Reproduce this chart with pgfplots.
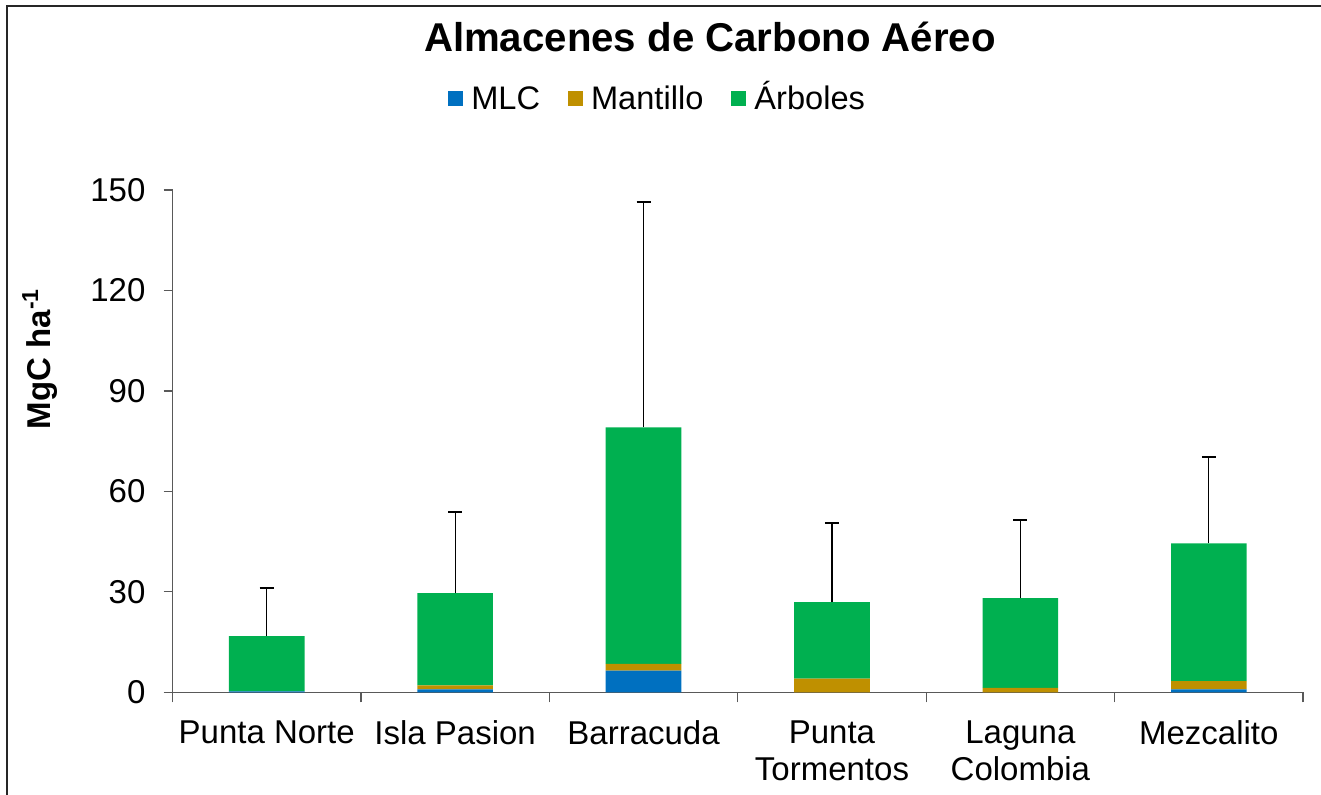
\documentclass[border=0pt]{standalone}
\usepackage{fontspec}
\setmainfont{Liberation Sans}
\usepackage{pgfplots}
\pgfplotsset{compat=1.18}
\definecolor{cMLC}{HTML}{0070C0}
\definecolor{cMan}{HTML}{BF9000}
\definecolor{cArb}{HTML}{00B050}
\definecolor{axgray}{HTML}{595959}
\begin{document}
\begin{tikzpicture}[x=1pt,y=1pt]
\useasboundingbox (0,0) rectangle (660.5,397.5);
\draw[line width=0.9pt, black!85] (3.5,-20) -- (3.5,394.5) -- (700,394.5);
\node[anchor=base, font=\fontsize{20.1}{23}\selectfont\bfseries] at (355,371.5) {Almacenes de Carbono Aéreo};
\begin{axis}[
  at={(86.25pt,51.35pt)}, anchor=south west,
  scale only axis, width=565.25pt, height=251.15pt,
  ymin=0, ymax=150, xmin=-0.5, xmax=5.5,
  ybar stacked, bar width=37.8pt,
  axis x line*=bottom, axis y line*=left,
  axis line style={-, axgray, line width=0.65pt},
  ytick={0,30,...,150},
  xtick={0,...,5},
  xticklabels={Punta Norte, Isla Pasion, Barracuda, Punta\\Tormentos, Laguna\\Colombia, Mezcalito},
  minor xtick={-0.5,0.5,...,5.5},
  tick align=outside, major tick length=4.5pt, minor tick length=5pt,
  tick style={axgray, line width=0.65pt},
  major x tick style={draw=none},
  ticklabel style={font=\fontsize{16.5}{18.75}\selectfont},
  /pgf/number format/assume math mode=true,
  xticklabel style={align=center, anchor=north, yshift=-6pt, font=\fontsize{16.5}{18.9}\selectfont},
  yticklabel style={xshift=-5.5pt},
  ylabel={\textbf{MgC ha\textsuperscript{-1}}},
  ylabel style={font=\fontsize{16.5}{20}\selectfont, at={(axis description cs:-0.1172,0.664)}, anchor=center, rotate=0},
  legend columns=3,
  legend style={draw=none, fill=none, at={(axis description cs:0.43,1.179)}, anchor=center,
    font=\fontsize{16.3}{19}\selectfont,
    nodes={text height=12pt, text depth=3pt},
    /tikz/every odd column/.append style={column sep=2pt},
    /tikz/every even column/.append style={column sep=12pt}},
  legend image code/.code={\fill[#1] (0pt,-3.0pt) rectangle (7.5pt,4.5pt);},
]
\addplot[fill=cMLC, draw=none] coordinates {(0,0.3) (1,0.9) (2,6.5) (3,0) (4,0) (5,0.9)};
\addlegendentry{MLC}
\addplot[fill=cMan, draw=none] coordinates {(0,0) (1,1.2) (2,2.0) (3,4.1) (4,1.3) (5,2.4)};
\addlegendentry{Mantillo}
\addplot[fill=cArb, draw=none] coordinates {(0,16.5) (1,27.5) (2,70.6) (3,22.8) (4,26.8) (5,41.2)};
\addlegendentry{Árboles}
\end{axis}
\begin{axis}[
  at={(86.25pt,51.35pt)}, anchor=south west,
  scale only axis, width=565.25pt, height=251.15pt,
  ymin=0, ymax=150, xmin=-0.5, xmax=5.5,
  hide axis,
]
\addplot[draw=none, forget plot,
  error bars/.cd, y dir=plus, y explicit,
  error bar style={draw=black, line width=0.6pt},
  error mark options={rotate=90, mark size=3.5pt, draw=black, line width=0.9pt}]
  coordinates {(0,16.8) +- (0,14.3) (1,29.6) +- (0,24.2) (2,79.1) +- (0,67.2)
               (3,26.9) +- (0,23.6) (4,28.1) +- (0,23.3) (5,44.5) +- (0,25.8)};
\end{axis}
\end{tikzpicture}
\end{document}
